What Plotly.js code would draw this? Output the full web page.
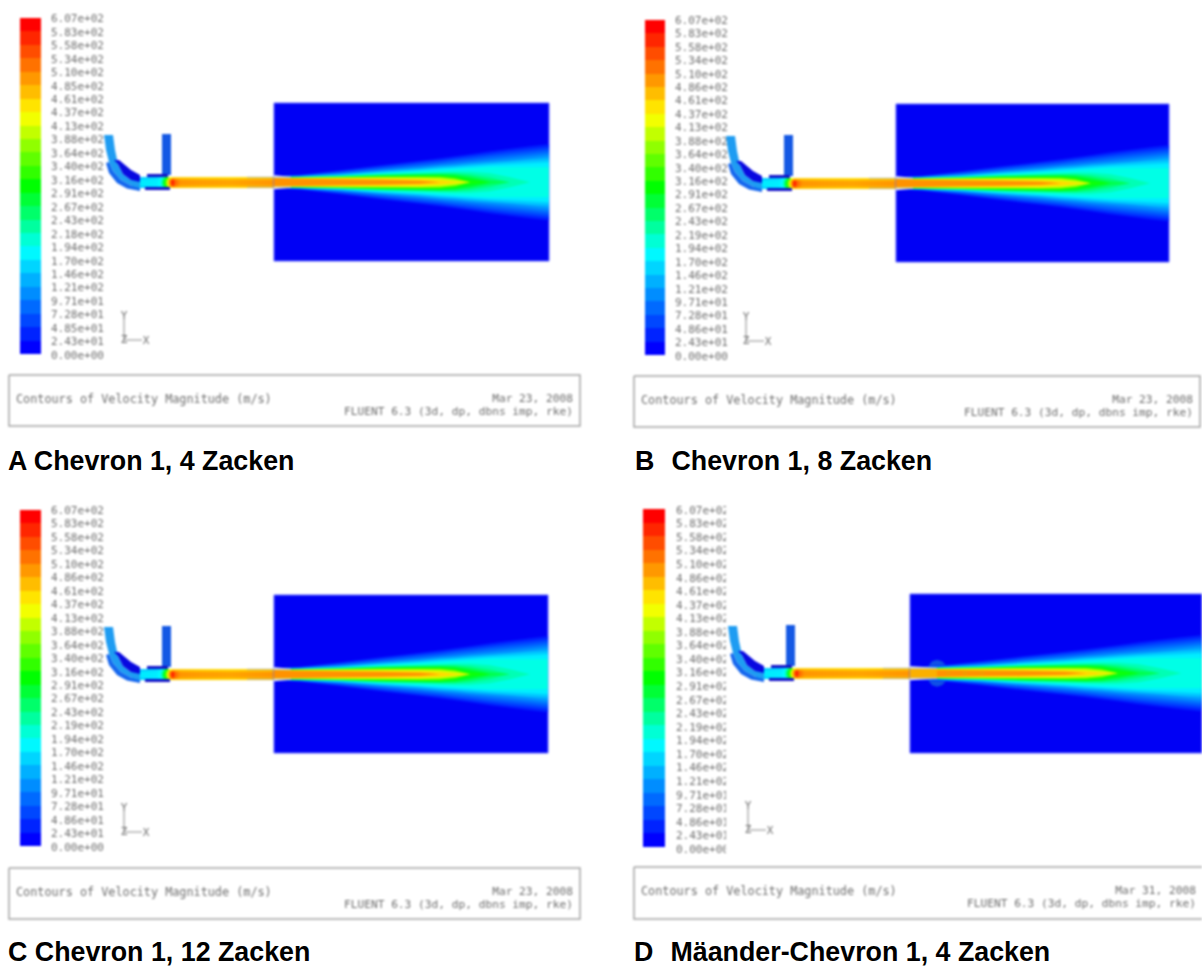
<!DOCTYPE html>
<html><head><meta charset="utf-8">
<script src="https://cdn.plot.ly/plotly-3.0.1.min.js"></script>
<style>html,body{margin:0;padding:0;background:#fff}
#plot,#caps{position:absolute;left:0;top:0;width:1202px;height:967px}
#plot{filter:blur(0.8px)}</style>
</head><body><div id="plot"></div><div id="caps"></div>
<script>
// ---------- legend values (m/s) ----------
const LABELS_A = ["6.07e+02","5.83e+02","5.58e+02","5.34e+02","5.10e+02","4.85e+02","4.61e+02","4.37e+02","4.13e+02","3.88e+02","3.64e+02","3.40e+02","3.16e+02","2.91e+02","2.67e+02","2.43e+02","2.18e+02","1.94e+02","1.70e+02","1.46e+02","1.21e+02","9.71e+01","7.28e+01","4.85e+01","2.43e+01","0.00e+00"];
const LABELS_B = ["6.07e+02","5.83e+02","5.58e+02","5.34e+02","5.10e+02","4.86e+02","4.61e+02","4.37e+02","4.13e+02","3.88e+02","3.64e+02","3.40e+02","3.16e+02","2.91e+02","2.67e+02","2.43e+02","2.19e+02","1.94e+02","1.70e+02","1.46e+02","1.21e+02","9.71e+01","7.28e+01","4.86e+01","2.43e+01","0.00e+00"];
const BAND_VALUES = [0,25,51,76,101,126,152,177,202,228,253,278,303,329,354,379,405,430,455,481,506,531,556,582,607];
const SCALE_STOPS = [0,0.3,0.5,0.72,1];
const SCALE_RGB = [[0,0,255],[0,255,255],[0,255,0],[255,255,0],[255,0,0]];
const FLUENT_SCALE = SCALE_STOPS.map((s,i)=>[s,"rgb("+SCALE_RGB[i].join(",")+")"]);

// ---------- plume: half-width of each velocity level at each station ----------
const PLUME_STATIONS = [0,26,66,106,146,166,181,196,216,236,256,275];
const PLUME_LEVELS = [24,49,73,97,121,146,170,194,218,243,267,291,316,364,413,461,510];
const PLUME_HALFWIDTHS = [
 [6.0,7.5,12,17,21.5,24,26,28,31,33.5,36,38],
 [5.8,7,11,15.5,20,22,24,26,28.5,31,33,35],
 [5.6,6.5,10,14,18,20,22,23.5,26,28,30,32],
 [5.5,6.2,9,12.5,16,18,19.5,21,23,25,27,29],
 [5.4,6,8,11.5,14.5,16.5,17.5,19,20.5,22,24,26],
 [5.3,5.8,7.5,10.5,13,15,16,17.5,19,20.5,22,23],
 [5.2,5.6,7,9.5,12,13.5,14.5,15.5,17,18,19,20],
 [5.1,5.4,6.5,9,11,12,13,14,15,15,15,15],
 [5,5.2,6.3,8.2,9.5,10,10.5,10.5,9,5,0,0],
 [4.9,5.1,6,7.6,8.5,9,9,8,5,0,0,0],
 [4.8,5,5.8,7,7.8,8.3,8,6,2,0,0,0],
 [4.7,4.9,5.6,6.6,7.2,7.4,6.5,4,0,0,0,0],
 [4.6,4.8,5.4,6,6.5,6.5,5,1,0,0,0,0],
 [4.5,4.7,5.1,5.5,5.6,5.5,4,0,0,0,0,0],
 [4.4,4.5,4.7,4.8,4.7,4.3,2.5,0,0,0,0,0],
 [4.3,4.2,4,3.8,3.4,2.4,0.6,0,0,0,0,0],
 [4.2,3.6,3,2.5,1.5,0,0,0,0,0,0,0]
];

// ---------- duct jet: velocity at stations along the duct ----------
const DUCT_X = [140,156,160,163,166,168,170,172,175,180,200,230,250,274];
const DUCT_Y = [-4.5,-3,0,3,4.5];
const DUCT_EDGE = [140,150,170,220,300,380,440,470,470,470,465,460,465,470];
const DUCT_MID  = [165,170,180,250,350,450,520,570,530,500,495,490,495,500];
const DUCT_CORE = [170,170,185,270,380,470,540,600,540,510,505,500,505,510];

// ---------- nozzle geometry (panel A frame) ----------
const PIPE_X = [104,106,109,113,121,131,140,140,131,123,118,115,113];
const PIPE_Y = [135,150,162,171,180,185.5,188,182,180,174,164,150,135];
const LOWER_X = [106,109,117,127,140,140,131,121,113,109];
const LOWER_Y = [163,173,183,188.5,191,188,185.5,180,171,162];
const INNER_X = [114,119,131,140,140,131,123,118];
const INNER_Y = [160,160,170,175,182,180,174,164];
const STACK_X = [162,171,171,162];
const STACK_Y = [134,134,175,175];
const LIP_TOP_X = [147,168,168,147];
const LIP_TOP_Y = [174,174,177,177];
const LIP_BOT_X = [145,170,170,145];
const LIP_BOT_Y = [187,187,190,190];

// ---------- chevron lobes of panel D ----------
const LOBE_X = [928,929,932,937,942,946,948,946,942,937,932,929];
const LOBE_HW = [4,8,12,13.5,12,8,0,-8,-12,-13.5,-12,-8];

// ---------- panels ----------
const CAPTIONS = ["A Chevron 1, 4 Zacken","B\u00a0\u00a0\u200aChevron 1, 8 Zacken","C Chevron 1, 12 Zacken","D\u00a0\u00a0\u200aMäander-Chevron 1, 4 Zacken"];
const DATES = ["Mar 23, 2008","Mar 23, 2008","Mar 23, 2008","Mar 31, 2008"];
const TITLE_TEXT = "Contours of Velocity Magnitude (m/s)";
const SOLVER_TEXT = "FLUENT 6.3 (3d, dp, dbns imp, rke)";

const P = [
 {labels:LABELS_A,dx:0,  dy:0,  barL:20, barR:41, barT:18, barB:354,labX:51, labT:19.5,labB:356,rect:[274,549,103,261],box:[9,580,375,426],cap:[8,461],  scale:1,    lip:17},
 {labels:LABELS_B,dx:622,dy:1,  barL:645,barR:665,barT:20, barB:355,labX:675,labT:21,  labB:357,rect:[896,1169,104,262],box:[634,1200,376,427],cap:[635,461],scale:0.993,lip:17},
 {labels:LABELS_B,dx:0,  dy:492,barL:20, barR:41, barT:510,barB:846,labX:51, labT:511, labB:848,rect:[274,548,595,753],box:[9,580,868,919],cap:[8,952],  scale:1,    lip:17},
 {labels:LABELS_B,dx:624,dy:491,barL:643,barR:665,barT:509,barB:847,labX:676,labT:511, labB:850,rect:[910,1202,594,753],box:[634,1203,867,919],cap:[634,952],scale:1.06,lip:27}
];

const MONO = "DejaVu Sans Mono, monospace";
const INK = "#6e6e6e";
const traces = [];
const annotations = [];
function fluent(v){
  const t = Math.min(1,Math.max(0,v/607));
  let i = 0; while(i<3 && t>SCALE_STOPS[i+1]) i++;
  const f = (t-SCALE_STOPS[i])/(SCALE_STOPS[i+1]-SCALE_STOPS[i]);
  return "rgb("+[0,1,2].map(k=>Math.round(SCALE_RGB[i][k]+(SCALE_RGB[i+1][k]-SCALE_RGB[i][k])*f)).join(",")+")";
}
function poly(x,y,color){
  traces.push({type:"scatter",mode:"none",x:x.concat(x[0]),y:y.concat(y[0]),fill:"toself",fillcolor:color,hoverinfo:"skip",showlegend:false});
}
function line(x,y,color,w){
  traces.push({type:"scatter",mode:"lines",x,y,line:{color,width:w},hoverinfo:"skip",showlegend:false});
}
function text(x,y,t,pos,size,color,family){
  traces.push({type:"scatter",mode:"text",x:[].concat(x),y:[].concat(y),text:[].concat(t),textposition:pos,
    textfont:{family:family||MONO,size,color},cliponaxis:false,hoverinfo:"skip",showlegend:false});
}

P.forEach((p,k)=>{
  // colour bar
  const n = BAND_VALUES.length;
  const ys = Array.from({length:n+1},(_,i)=>p.barB-(p.barB-p.barT)*i/n);
  traces.push({type:"heatmap",x:[p.barL,p.barR],y:ys,z:BAND_VALUES.map(v=>[v]),colorscale:FLUENT_SCALE,zmin:0,zmax:607,showscale:false,hoverinfo:"skip"});
  // legend labels
  const m = p.labels.length;
  text(p.labels.map(()=>p.labX),p.labels.map((_,i)=>p.labT+(p.labB-p.labT)*i/(m-1)),p.labels,"middle right",11,INK);
  if(k===3) poly([726,740,740,726],[500,500,860,860],"#ffffff");

  // duct jet
  const cy = 182+p.dy+0.3, rl = p.rect[0];
  const ductX = DUCT_X.map(x=> x<=180 ? x+p.dx : p.dx+180+(x-180)*(rl-p.dx-180)/94);
  traces.push({type:"heatmap",x:ductX,y:DUCT_Y.map(o=>cy+o),
    z:[DUCT_EDGE,DUCT_MID,DUCT_CORE,DUCT_MID,DUCT_EDGE],colorscale:FLUENT_SCALE,zmin:0,zmax:607,zsmooth:"best",showscale:false,hoverinfo:"skip"});

  // nozzle
  const nx = a=>a.map(v=>v+p.dx), ny = a=>a.map(v=>v+p.dy);
  poly(nx(LOWER_X),ny(LOWER_Y),"#1466ee");
  poly(nx(PIPE_X),ny(PIPE_Y),"#1e9cf2");
  poly(nx(INNER_X),ny(INNER_Y),"#0808e0");
  poly(nx(STACK_X),ny(STACK_Y),"#1458e4");
  poly(nx(LIP_TOP_X),ny(LIP_TOP_Y),"#1010c8");
  poly(nx(LIP_BOT_X),ny(LIP_BOT_Y),"#1010c8");

  // domain rectangle
  const [rL,rR,rT,rB] = p.rect;
  poly([rL,rR,rR,rL],[rT,rT,rB,rB],"#0000f5");
  line([rL,rR,rR,rL,rL],[rT,rT,rB,rB,rT],"#5a62ff",1);

  // chevron lobes in panel D, under the plume
  if(k===3) poly(LOBE_X,LOBE_HW.map(v=>v+cy),"#0f50e6");

  // plume
  const sx = s=>Math.min(rR,rL+s*p.scale);
  PLUME_LEVELS.forEach((v,li)=>{
    const hw = PLUME_HALFWIDTHS[li];
    let last = hw.findIndex(h=>h===0); if(last<0) last = hw.length-1;
    const xs = PLUME_STATIONS.slice(0,last+1).map(sx), up = hw.slice(0,last+1);
    poly(xs.concat(xs.slice().reverse()),up.map(h=>cy-h).concat(up.slice().reverse().map(h=>cy+h)),fluent(v));
  });

  // nozzle exit sliver, jet through the lip, and wall lines
  poly([rL,rL+p.lip,rL+p.lip,rL],[cy-7,cy-5.5,cy-4.5,cy-4.5],"#ffffff");
  poly([rL,rL+p.lip,rL+p.lip,rL],[cy+7,cy+5.5,cy+4.5,cy+4.5],"#ffffff");
  if(k===3){
    poly([rL,rL+p.lip,rL+p.lip,rL],[cy-4.5,cy-4.5,cy+4.5,cy+4.5],"#fbb000");
    const SPOT_X = [948,965,982];
    traces.push({type:"scatter",mode:"markers",x:SPOT_X,y:SPOT_X.map(()=>cy),marker:{size:5,color:"#f59a00"},hoverinfo:"skip",showlegend:false});
  }
  line([rL-27,rL+p.lip],[cy-5,cy-5],"#a0a6a6",0.7);
  line([rL-27,rL+p.lip],[cy+5,cy+5],"#a0a6a6",0.7);

  // coordinate triad
  const tx = 124+p.dx, ty = 340+p.dy+(k===3?-1:0);
  line([tx,tx,tx+18],[ty-21,ty,ty],"#8a8a8a",1);
  text(tx,ty-24,"Y","middle center",11,INK);
  text(tx,ty,"Z","middle center",11,INK);
  text(tx+22,ty+1,"X","middle center",11,INK);

  // footer box
  const [bL,bR,bT,bB] = p.box;
  line([bL,bR,bR,bL,bL],[bT,bT,bB,bB,bT],"#a4a4a4",1.5);
  text(bL+7,bT+25,TITLE_TEXT,"middle right",11.8,INK);
  text(bR-7,bT+24,DATES[k],"middle left",11.2,INK);
  text(bR-7,bT+37,SOLVER_TEXT,"middle left",11.2,INK);

  // caption
  annotations.push({x:p.cap[0],y:p.cap[1],xref:"x",yref:"y",xanchor:"left",yanchor:"middle",showarrow:false,borderpad:0,borderwidth:0,
    text:"<b>"+CAPTIONS[k]+"</b>",font:{family:"Liberation Sans, Arial, sans-serif",size:26.8,color:"#000000"}});
});

const hidden = {visible:false,fixedrange:true};
const frame = extra => Object.assign({
  width:1202,height:967,margin:{l:0,r:0,t:0,b:0},showlegend:false,hovermode:false,
  xaxis:Object.assign({range:[0,1202],domain:[0,1]},hidden),
  yaxis:Object.assign({range:[967,0],domain:[0,1]},hidden)
},extra);
const cfg = {displayModeBar:false,staticPlot:true};
Plotly.newPlot("plot",traces,frame({paper_bgcolor:"#fff",plot_bgcolor:"#fff"}),cfg);
// captions sit on a sharp overlay: they are crisp in the reference, the FLUENT panels are soft
Plotly.newPlot("caps",[],frame({paper_bgcolor:"rgba(0,0,0,0)",plot_bgcolor:"rgba(0,0,0,0)",annotations}),cfg);
</script></body></html>
